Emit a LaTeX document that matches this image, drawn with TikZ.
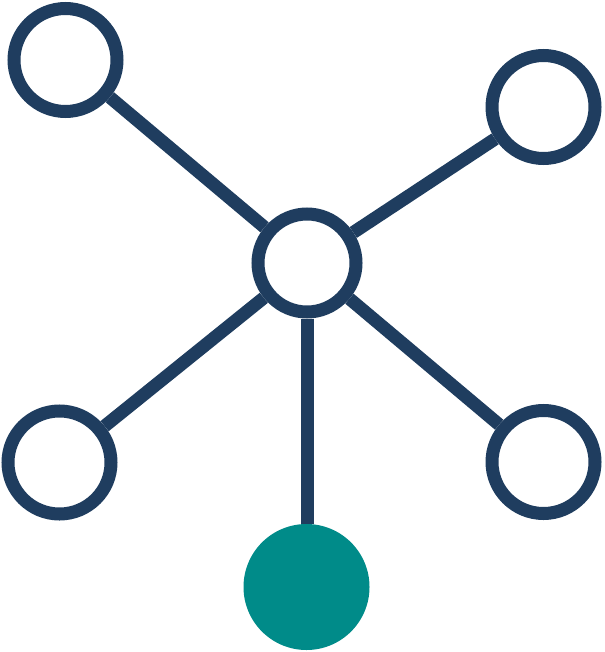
\documentclass[tikz,border=0pt]{standalone}
\begin{document}
\begin{tikzpicture}[x=1pt,y=-1pt,
  navy/.style={draw=navyc,line width=13pt},
  ring/.style={circle,navy,fill=white,inner sep=0pt,minimum size=103pt},
  dot/.style={circle,fill=tealc,inner sep=0pt,minimum size=126pt},
  link/.style={navy}]
\definecolor{navyc}{HTML}{1F3D5F}
\definecolor{tealc}{HTML}{008B89}
\useasboundingbox (0,0) rectangle (604,652);
\node[ring,minimum size=98pt] (c) at (307,263) {};
\node[ring] (tl) at (65.5,60) {};
\node[ring] (tr) at (543.5,107) {};
\node[ring] (bl) at (59.5,462.5) {};
\node[ring] (br) at (543.5,462) {};
\node[dot] (b) at (306.5,587) {};
\draw[link] (c) -- (tl);
\draw[link] (c) -- (tr);
\draw[link] (c) -- (bl);
\draw[link] (c) -- (br);
\draw[link] (c.south) -- (c.south |- b.north);
\end{tikzpicture}
\end{document}
